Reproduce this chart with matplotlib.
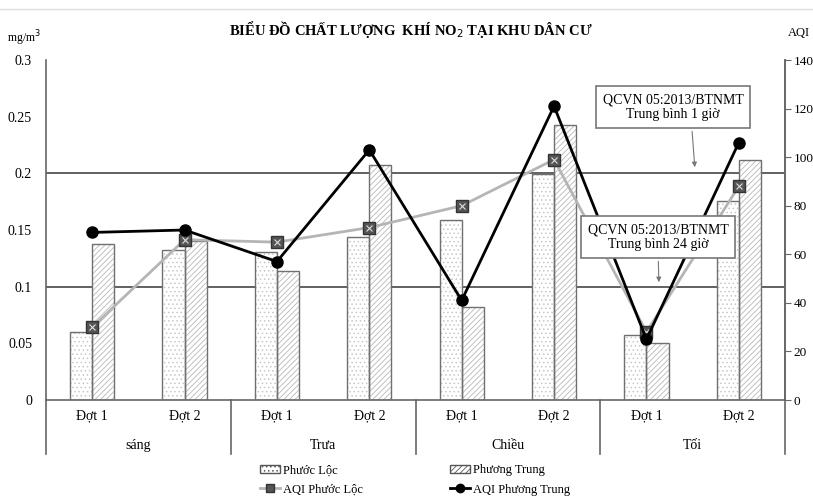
import numpy as np
import matplotlib.pyplot as plt
from matplotlib.lines import Line2D
from matplotlib.patches import Patch

plt.rcParams['font.family'] = ['Liberation Serif', 'DejaVu Serif']
plt.rcParams['hatch.linewidth'] = 0.6

# ---- data ----
dot_labels = ['Đợt 1', 'Đợt 2'] * 4
groups = ['sáng', 'Trưa', 'Chiều', 'Tối']
phuoc_loc = [0.060, 0.132, 0.131, 0.144, 0.159, 0.199, 0.057, 0.176]
phuong_trung = [0.138, 0.140, 0.114, 0.207, 0.082, 0.243, 0.050, 0.212]
aqi_phuoc_loc = [30, 66, 65, 71, 80, 99, 28, 88]
aqi_phuong_trung = [69, 70, 57, 103, 41, 121, 25, 106]
limit_1h = 0.2
limit_24h = 0.1

fig = plt.figure(figsize=(8.13, 5.03), dpi=100)
ax = fig.add_axes([46 / 813, 1 - 400 / 503, (785 - 46) / 813, 340 / 503])
x = np.arange(len(phuoc_loc))
w = 0.24

# bars: hatch fill first, outline on top
ax.bar(x - w / 2, phuoc_loc, w, color='white', edgecolor='#c8c8c8', hatch='....', linewidth=0, zorder=2)
ax.bar(x - w / 2, phuoc_loc, w, fill=False, edgecolor='#707070', linewidth=1.0, zorder=3)
ax.bar(x + w / 2, phuong_trung, w, color='white', edgecolor='#b8b8b8', hatch='//////', linewidth=0, zorder=2)
ax.bar(x + w / 2, phuong_trung, w, fill=False, edgecolor='#707070', linewidth=1.0, zorder=3)

# standard lines
ax.axhline(limit_1h, color='#555555', lw=1.3, zorder=1)
ax.axhline(limit_24h, color='#555555', lw=1.3, zorder=1)

ax.set_xlim(-0.5, 7.5)
ax.set_ylim(0, 0.3)
ax.set_yticks(np.arange(0, 0.31, 0.05))
ax.set_yticklabels(['0', '0.05', '0.1', '0.15', '0.2', '0.25', '0.3'])
ax.tick_params(axis='y', length=0, labelsize=10, pad=10)
ax.set_xticks(x)
ax.set_xticklabels(dot_labels, fontsize=10)
ax.tick_params(axis='x', length=0, pad=7)
ax.spines['top'].set_visible(False)
for s in ['left', 'bottom', 'right']:
    ax.spines[s].set_color('#666666')
    ax.spines[s].set_linewidth(1.2)

# group labels and separators below axis
for i, g in enumerate(groups):
    ax.text((2 * i + 1) / 8, -0.135, g, transform=ax.transAxes, ha='center', va='center', fontsize=10)
for b in range(5):
    ax.plot([b / 4, b / 4], [0, -0.16], transform=ax.transAxes, color='#666666', lw=1.2, clip_on=False)

# AQI axis
ax2 = ax.twinx()
ax2.set_ylim(0, 140)
ax2.set_yticks(np.arange(0, 141, 20))
ax2.tick_params(axis='y', length=4, labelsize=9.5, color='#666666', pad=2)
for s in ['top', 'left', 'bottom']:
    ax2.spines[s].set_visible(False)
ax2.spines['right'].set_color('#666666')
ax2.spines['right'].set_linewidth(1.2)

ax2.plot(x, aqi_phuoc_loc, color='#b5b5b5', lw=2, zorder=4)
ax2.plot(x, aqi_phuoc_loc, ls='none', marker='s', ms=8, mfc='#555555', mec='#333333', zorder=5)
ax2.plot(x, aqi_phuoc_loc, ls='none', marker='x', ms=4, mec='#dddddd', mew=0.8, zorder=6)
ax2.plot(x, aqi_phuong_trung, color='black', lw=2, marker='o', ms=8, zorder=7)

# annotation boxes (figure pixels, origin bottom-left)
box = dict(boxstyle='square,pad=0.5', fc='white', ec='#777777', lw=1.2)
ax2.annotate('QCVN 05:2013/BTNMT\nTrung bình 1 giờ', xy=(695, 333), xycoords='figure pixels',
             xytext=(673, 396), textcoords='figure pixels', ha='center', va='center',
             fontsize=10, bbox=box, zorder=10,
             arrowprops=dict(arrowstyle='-|>', color='#777777', lw=0.8, mutation_scale=7,
                             relpos=(0.63, 0)))
ax2.annotate('QCVN 05:2013/BTNMT\nTrung bình 24 giờ', xy=(659, 218), xycoords='figure pixels',
             xytext=(658, 266), textcoords='figure pixels', ha='center', va='center',
             fontsize=10, bbox=box, zorder=10,
             arrowprops=dict(arrowstyle='-|>', color='#777777', lw=0.8, mutation_scale=7,
                             relpos=(0.5, 0)))

# titles
fig.text(0.505, 1 - 30 / 503, 'BIỂU ĐỒ CHẤT LƯỢNG  KHÍ NO$_2$ TẠI KHU DÂN CƯ',
         ha='center', va='center', fontsize=10.5, fontweight='bold')
fig.text(24 / 813, 1 - 38 / 503, 'mg/m$^3$', ha='center', va='center', fontsize=8.5)
fig.text(799 / 813, 1 - 33 / 503, 'AQI', ha='center', va='center', fontsize=9)
fig.add_artist(Line2D([0, 1], [1 - 9 / 503] * 2, color='#dddddd', lw=1))

# legend
handles = [
    Patch(facecolor='white', edgecolor='#555555', hatch='....', label='Phước Lộc'),
    Line2D([], [], color='#b5b5b5', lw=2, marker='s', ms=6, mfc='#555555', mec='#333333', label='AQI Phước Lộc'),
    Patch(facecolor='white', edgecolor='#555555', hatch='//////', label='Phương Trung'),
    Line2D([], [], color='black', lw=2, marker='o', ms=6, label='AQI Phương Trung'),
]
fig.legend(handles=handles, ncol=2, loc='center', bbox_to_anchor=(415 / 813, 1 - 480 / 503),
           frameon=False, fontsize=9, handlelength=1.6, handletextpad=0.2, columnspacing=7,
           labelspacing=0.6)

fig.savefig('out.png', dpi=100)
